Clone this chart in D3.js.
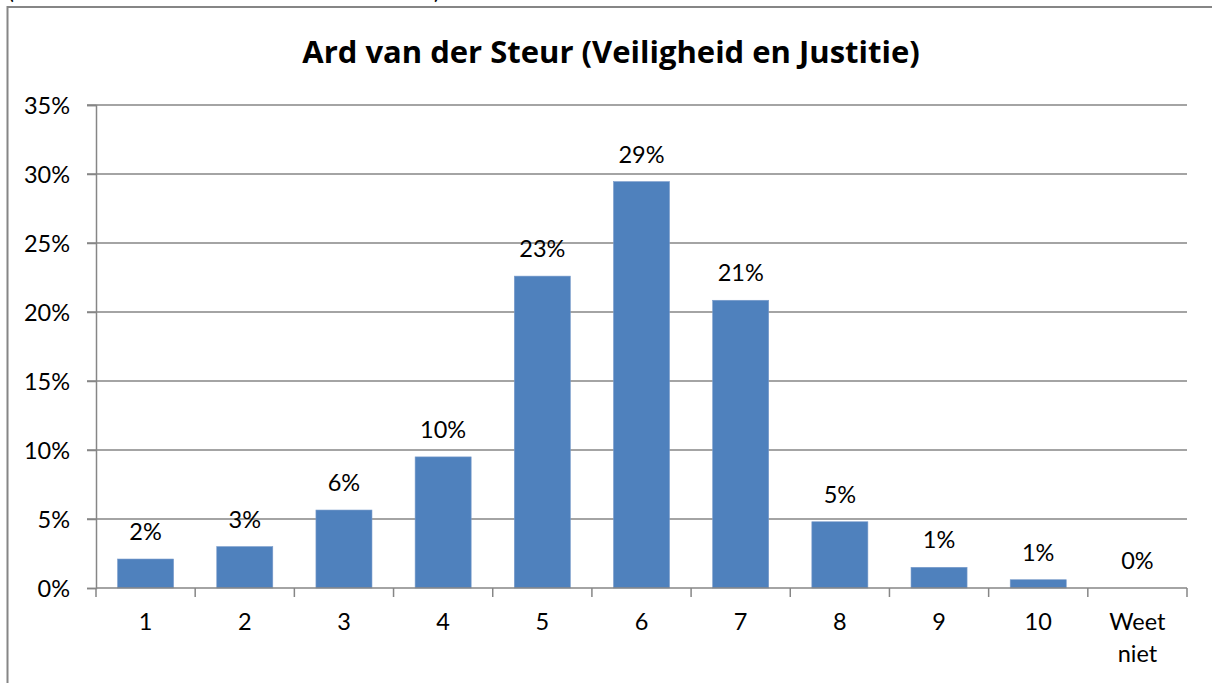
<!DOCTYPE html>
<html><head><meta charset="utf-8">
<script src="https://cdn.jsdelivr.net/npm/d3@7"></script>
<style>html,body{margin:0;padding:0;background:#fff;}svg{display:block;}</style>
</head><body>
<svg id="c" width="1212" height="683"></svg>
<script>
const categories = ["1","2","3","4","5","6","7","8","9","10","Weet niet"];
const values = [2.1, 3.0, 5.65, 9.5, 22.6, 29.45, 20.85, 4.8, 1.5, 0.6, 0];
const labels = ["2%","3%","6%","10%","23%","29%","21%","5%","1%","1%","0%"];
const yTicks = [0,5,10,15,20,25,30,35];
const title = "Ard van der Steur (Veiligheid en Justitie)";

const font = "Lato, 'Open Sans', sans-serif";
const fs = 23.5;
const svg = d3.select("#c");
svg.append("rect").attr("width",1212).attr("height",683).attr("fill","#fff");
// outer chart border
svg.append("rect").attr("x",7.5).attr("y",7).attr("width",1250).attr("height",720)
  .attr("fill","none").attr("stroke","#868686").attr("stroke-width",2);
// clipped text fragments above
svg.append("text").attr("x",8).attr("y",-1).attr("font-family",font).attr("font-size",22).text("(");
svg.append("text").attr("x",434).attr("y",-1).attr("font-family",font).attr("font-size",22).text(")");

const m = {l:96, r:1187, t:105, b:588};
const x = d3.scaleBand().domain(categories).range([m.l,m.r]).paddingInner(0.435).paddingOuter(0.2175);
const y = d3.scaleLinear().domain([0,35]).range([m.b,m.t]);

// gridlines
svg.append("g").selectAll("line").data(yTicks.filter(d=>d>0)).join("line")
  .attr("x1",m.l-9).attr("x2",m.r).attr("y1",d=>y(d)).attr("y2",d=>y(d))
  .attr("stroke","#868686").attr("stroke-width",1.5);

// bars
svg.append("g").selectAll("rect").data(categories).join("rect")
  .attr("x",d=>x(d)).attr("width",x.bandwidth())
  .attr("y",(d,i)=>y(values[i])).attr("height",(d,i)=>y(0)-y(values[i]))
  .attr("fill","#4F81BD").attr("stroke","#7a9ccb").attr("stroke-width",0.6);

// y axis
const yAxis = d3.axisLeft(y).tickValues(yTicks).tickFormat(d=>d+"%").tickSize(9).tickPadding(17);
const gy = svg.append("g").attr("transform",`translate(${m.l},0)`).call(yAxis);
gy.select(".domain").attr("stroke","#868686").attr("stroke-width",1.5);
gy.selectAll(".tick line").attr("stroke","#868686").attr("stroke-width",1.5);
gy.selectAll(".tick text").attr("font-family",font).attr("font-size",fs).attr("fill","#000").attr("dy","0.36em");

// x axis line & ticks at band boundaries
const bounds = d3.range(categories.length+1).map(i=>m.l + i*(m.r-m.l)/categories.length);
svg.append("line").attr("x1",m.l).attr("x2",m.r).attr("y1",m.b).attr("y2",m.b).attr("stroke","#868686").attr("stroke-width",1.5);
svg.append("g").selectAll("line").data(bounds).join("line")
  .attr("x1",d=>d).attr("x2",d=>d).attr("y1",m.b).attr("y2",m.b+9)
  .attr("stroke","#868686").attr("stroke-width",1.5);

// x labels
const xl = svg.append("g").selectAll("text").data(categories).join("text")
  .attr("x",d=>x(d)+x.bandwidth()/2).attr("y",630)
  .attr("text-anchor","middle").attr("font-family",font).attr("font-size",fs).attr("fill","#000");
xl.each(function(d){
  const parts = d.split(" ");
  const t = d3.select(this);
  parts.forEach((p,i)=>t.append("tspan").attr("x",x(d)+x.bandwidth()/2).attr("dy",i?32:0).text(p));
});

// data labels
svg.append("g").selectAll("text").data(categories).join("text")
  .attr("x",d=>x(d)+x.bandwidth()/2).attr("y",(d,i)=>y(values[i])-19)
  .attr("text-anchor","middle").attr("font-family",font).attr("font-size",fs).attr("fill","#000")
  .text((d,i)=>labels[i]);

// title
svg.append("text").attr("x",611).attr("y",63).attr("text-anchor","middle")
  .attr("font-family","'Open Sans', Lato, sans-serif").attr("font-size",31).attr("font-weight","bold").attr("fill","#000").text(title);
</script>
</body></html>
